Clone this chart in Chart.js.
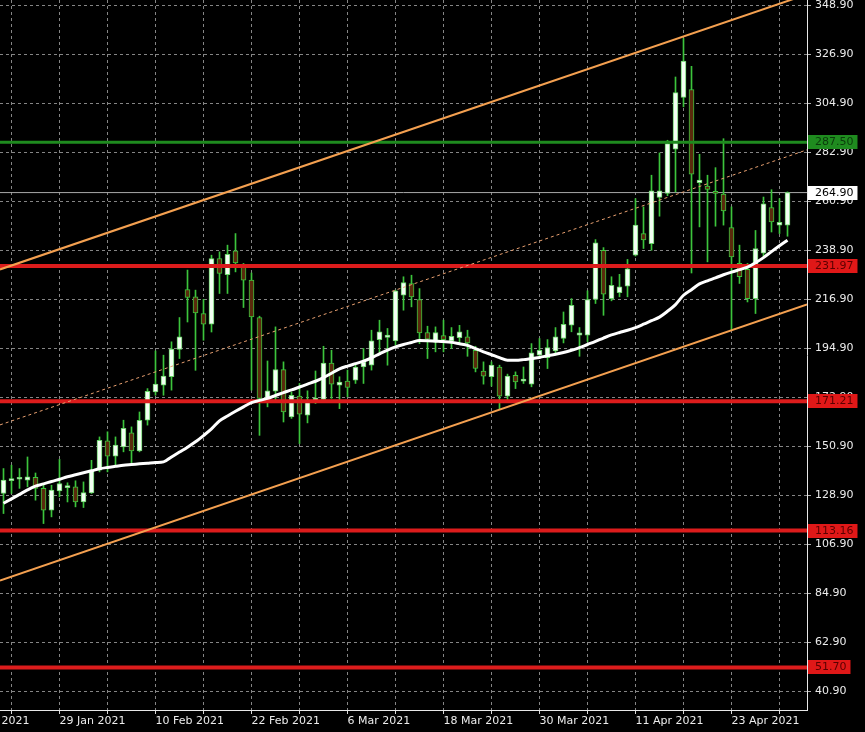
<!DOCTYPE html>
<html>
<head>
<meta charset="utf-8">
<title>Daily chart</title>
<script src="https://cdn.jsdelivr.net/npm/chart.js@4.4.1/dist/chart.umd.min.js"></script>
<style>
  html, body { margin: 0; padding: 0; background: #000; }
  canvas { display: block; }
</style>
</head>
<body>
<canvas id="chart" width="865" height="732"></canvas>
<script>
// daily candles, 22 Jan 2021 (index 0) .. 30 Apr 2021 (index 98)
const opens = [
  129.8, 135.5, 136.2, 135.8, 137.0, 132.1, 122.3, 131.0, 132.4, 132.8,
  126.0, 130.1, 140.3, 153.4, 146.6, 150.7, 157.0, 148.9, 162.7, 175.4,
  178.4, 182.2, 194.5, 221.4, 218.1, 210.6, 205.8, 235.3, 228.1, 238.7,
  231.3, 225.6, 208.8, 172.5, 175.7, 185.4, 164.2, 173.5, 165.0, 171.5,
  172.0, 188.4, 178.4, 180.3, 180.7, 186.6, 187.4, 198.9, 199.9, 198.3,
  218.8, 224.1, 216.9, 202.1, 197.9, 200.7, 198.3, 199.8, 200.1, 194.1,
  184.8, 182.2, 186.6, 173.5, 182.9, 180.2, 178.9, 191.9, 190.8, 193.8,
  199.4, 205.4, 200.9, 200.9, 216.9, 239.0, 217.3, 220.0, 222.9, 236.8,
  246.5, 242.0, 262.7, 264.5, 284.4, 307.6, 311.2, 269.3, 267.8, 265.5,
  264.2, 249.2, 233.1, 230.4, 217.3, 237.7, 258.2, 250.3, 250.3
];
const highs = [
  141.0, 142.5, 141.0, 146.2, 139.0, 134.3, 133.5, 145.1, 134.6, 135.5,
  135.0, 144.7, 155.2, 157.5, 155.2, 162.7, 159.7, 166.4, 176.9, 193.8,
  191.9, 197.9, 208.8, 230.1, 221.1, 217.0, 236.8, 238.3, 241.3, 246.5,
  233.1, 228.8, 209.4, 189.3, 204.6, 188.9, 175.4, 179.2, 175.9, 184.8,
  195.9, 194.1, 182.2, 185.2, 188.2, 194.9, 203.1, 207.6, 203.9, 221.1,
  227.1, 227.8, 221.8, 204.9, 204.6, 207.6, 204.3, 205.3, 203.1, 195.9,
  188.9, 188.9, 187.4, 183.4, 184.4, 186.6, 197.1, 199.4, 198.9, 204.3,
  211.3, 217.3, 204.3, 220.8, 243.8, 240.2, 227.1, 228.2, 234.9, 262.2,
  258.5, 272.7, 282.7, 288.4, 316.8, 334.1, 321.6, 282.1, 272.7, 276.1,
  289.1, 258.5, 241.3, 233.1, 247.9, 262.9, 266.2, 262.2, 265.2
];
const lows = [
  120.8, 129.8, 132.1, 132.8, 126.8, 116.3, 119.3, 128.3, 126.0, 123.8,
  123.5, 129.8, 139.5, 139.5, 142.5, 148.5, 143.3, 148.5, 160.5, 173.9,
  173.9, 176.2, 190.4, 206.8, 185.1, 198.6, 202.3, 219.6, 219.6, 229.3,
  213.3, 176.2, 155.9, 168.7, 171.7, 161.9, 163.5, 152.2, 161.5, 170.2,
  171.4, 172.5, 167.9, 173.2, 179.2, 179.2, 185.2, 192.7, 187.4, 196.4,
  212.1, 213.6, 197.1, 190.4, 193.4, 193.4, 194.9, 196.8, 191.4, 184.4,
  178.9, 178.0, 167.9, 171.7, 176.9, 179.2, 177.7, 190.4, 185.9, 191.9,
  197.4, 202.4, 191.4, 197.9, 215.1, 209.8, 216.3, 218.1, 218.1, 236.4,
  239.8, 239.0, 254.3, 263.5, 265.2, 303.4, 228.8, 249.5, 233.8, 249.8,
  250.3, 203.1, 224.1, 215.8, 210.6, 236.1, 247.2, 246.5, 245.3
];
const closes = [
  135.8, 136.5, 137.1, 137.3, 132.1, 122.3, 131.3, 134.3, 133.4, 126.0,
  130.2, 140.3, 153.7, 146.6, 151.5, 159.0, 148.9, 162.7, 175.7, 178.9,
  182.5, 194.6, 200.1, 217.8, 210.9, 205.8, 235.3, 228.6, 237.2, 233.3,
  225.6, 209.1, 172.5, 175.9, 185.4, 166.4, 173.9, 165.4, 171.7, 172.6,
  188.4, 178.9, 179.8, 177.4, 186.6, 188.9, 198.3, 202.4, 200.9, 220.8,
  224.5, 218.1, 201.9, 199.1, 202.1, 198.9, 200.4, 202.4, 197.4, 185.9,
  182.5, 187.4, 173.5, 182.5, 179.9, 181.2, 192.9, 194.1, 195.3, 200.1,
  205.8, 214.3, 201.9, 216.9, 242.3, 219.3, 223.3, 222.6, 230.7, 250.3,
  243.6, 265.7, 265.7, 286.9, 309.8, 324.0, 273.2, 270.5, 266.3, 264.5,
  256.7, 236.0, 227.1, 217.3, 239.8, 259.8, 251.7, 251.5, 264.9
];
// white moving average
const movingAvg = [
  125.4, 127.4, 129.4, 131.4, 133.1, 134.1, 135.2, 136.2, 137.3, 138.2,
  139.1, 140.0, 140.9, 141.5, 142.0, 142.5, 142.8, 143.1, 143.4, 143.7,
  144.0, 146.2, 148.4, 150.6, 153.0, 155.8, 158.8, 162.4, 164.6, 166.7,
  168.7, 170.6, 171.6, 172.5, 173.8, 175.1, 176.3, 177.6, 178.9, 180.2,
  181.8, 183.8, 185.7, 187.0, 188.1, 189.2, 190.7, 192.5, 194.2, 195.6,
  196.7, 197.6, 198.5, 198.4, 198.2, 198.0, 197.7, 197.0, 196.3, 194.8,
  193.4, 192.1, 190.8, 189.6, 189.6, 189.9, 190.4, 190.9, 191.6, 192.3,
  193.1, 194.1, 195.3, 196.7, 198.1, 199.6, 201.0, 202.1, 203.1, 204.3,
  205.8, 207.4, 209.0, 211.6, 214.6, 218.8, 221.3, 223.9, 225.3, 226.6,
  228.0, 229.2, 230.3, 231.4, 233.4, 235.7, 238.4, 241.0, 243.5
];

const tickDays = [-5, 1, 7, 13, 19, 25, 31, 37, 43, 49, 55, 61, 67, 73, 79, 85, 91, 97];
const tickLabels = ['17 Jan 2021', '', '29 Jan 2021', '', '10 Feb 2021', '', '22 Feb 2021', '',
  '6 Mar 2021', '', '18 Mar 2021', '', '30 Mar 2021', '', '11 Apr 2021', '', '23 Apr 2021', ''];
const priceTicks = [40.9, 62.9, 84.9, 106.9, 128.9, 150.9, 172.9, 194.9, 216.9, 238.9,
  260.9, 282.9, 304.9, 326.9, 348.9];

const levels = [287.50, 231.97, 171.21, 113.16, 51.70];
const levelKinds = ['green', 'red', 'red', 'red', 'red'];
const bidPrice = 264.90;

// trend channel, [day, price] at both ends
const channelUpper = [[-0.44, 230.4], [100.44, 353.9]];
const channelMid = [[-0.44, 160.6], [100.44, 284.1]];
const channelLower = [[-0.44, 90.7], [100.44, 214.7]];

const xMin = -0.4375, xMax = 100.4375;
const yMin = 32.59, yMax = 351.37;

const kindColor = {
  green: { line: '#1f8b1f', box: '#1f8b1f', text: '#0b3a0b', width: 3 },
  red: { line: '#dc1c1c', box: '#e01818', text: '#5a0000', width: 4 }
};

const days = opens.map((_, i) => i);
const isBull = i => closes[i] >= opens[i];
const seg = pts => pts.map(p => ({ x: p[0], y: p[1] }));
const flat = v => [{ x: xMin, y: v }, { x: xMax, y: v }];
const font = { family: 'DejaVu Sans', size: 11 };

const priceBoxes = {
  id: 'priceBoxes',
  beforeDraw(chart) {
    const ctx = chart.ctx;
    ctx.save();
    ctx.fillStyle = '#000';
    ctx.fillRect(0, 0, chart.width, chart.height);
    ctx.restore();
  },
  afterDraw(chart) {
    const ctx = chart.ctx;
    const y = chart.scales.y;
    const left = chart.chartArea.right + 1;
    ctx.save();
    ctx.font = '11px "DejaVu Sans"';
    ctx.textBaseline = 'middle';
    const box = (v, bg, fg) => {
      const py = Math.round(y.getPixelForValue(v));
      const txt = v.toFixed(2);
      const w = 7 + ctx.measureText(txt).width + 4;
      ctx.fillStyle = bg;
      ctx.fillRect(left, py - 7, w, 14);
      ctx.fillStyle = fg;
      ctx.fillText(txt, left + 7, py + 0.5);
    };
    levels.forEach((v, k) => box(v, kindColor[levelKinds[k]].box, kindColor[levelKinds[k]].text));
    box(bidPrice, '#ffffff', '#000000');
    ctx.restore();
  }
};

const datasets = [
  { type: 'line', data: seg(channelUpper), borderColor: '#f4a050', borderWidth: 2, pointRadius: 0, order: 0 },
  { type: 'line', data: seg(channelLower), borderColor: '#f4a050', borderWidth: 2, pointRadius: 0, order: 0 },
  { type: 'line', data: seg(channelMid), borderColor: '#e8a070', borderWidth: 1, borderDash: [3, 3], pointRadius: 0, order: 0 },
  { type: 'line', data: days.map(i => ({ x: i, y: movingAvg[i] })), borderColor: '#ffffff', borderWidth: 3,
    pointRadius: 0, cubicInterpolationMode: 'monotone', order: 1 }
];
levels.forEach((v, k) => {
  const c = kindColor[levelKinds[k]];
  datasets.push({ type: 'line', data: flat(v), borderColor: c.line, borderWidth: c.width, pointRadius: 0, order: 2 });
});
datasets.push({ type: 'line', data: flat(bidPrice), borderColor: '#a8a8a8', borderWidth: 1, pointRadius: 0, order: 7 });
datasets.push({
  type: 'bar', data: days.map(i => ({ x: i, y: [opens[i], closes[i]] })),
  barThickness: 5, grouped: false, borderWidth: 1, borderSkipped: false,
  backgroundColor: c => isBull(c.dataIndex) ? '#f2fff2' : '#5a2a0c',
  borderColor: c => isBull(c.dataIndex) ? '#6cd46c' : '#3cc43c',
  order: 5
});
datasets.push({
  type: 'bar', data: days.map(i => ({ x: i, y: [lows[i], highs[i]] })),
  barThickness: 1, grouped: false, backgroundColor: '#3cc43c', order: 6
});

new Chart(document.getElementById('chart'), {
  type: 'bar',
  data: { datasets: datasets },
  options: {
    responsive: false,
    animation: false,
    layout: { padding: 0 },
    plugins: { legend: { display: false }, tooltip: { enabled: false } },
    scales: {
      x: {
        type: 'linear', position: 'bottom', min: xMin, max: xMax, offset: false,
        grid: { color: '#858585', offset: false, tickLength: 4, tickColor: '#d8d8d8' },
        border: { color: '#e8e8e8', width: 1, dash: [3, 3] },
        ticks: {
          autoSkip: false, maxRotation: 0, align: 'start', padding: 1, color: '#ececec', font: font,
          callback: (v, i) => tickLabels[i]
        },
        afterBuildTicks: s => { s.ticks = tickDays.map(v => ({ value: v })); },
        afterFit: s => { s.height = 22; s.paddingLeft = 0; s.paddingRight = 0; }
      },
      y: {
        type: 'linear', position: 'right', min: yMin, max: yMax,
        grid: { color: '#858585', tickLength: 4, tickColor: '#b0b0b0' },
        border: { color: '#e8e8e8', width: 1, dash: [3, 3] },
        ticks: {
          autoSkip: false, padding: 4, color: '#ececec', font: font,
          callback: v => v.toFixed(2)
        },
        afterBuildTicks: s => { s.ticks = priceTicks.map(v => ({ value: v })); },
        afterFit: s => { s.width = 58; s.paddingTop = 0; s.paddingBottom = 0; }
      }
    }
  },
  plugins: [priceBoxes]
});
</script>
</body>
</html>
